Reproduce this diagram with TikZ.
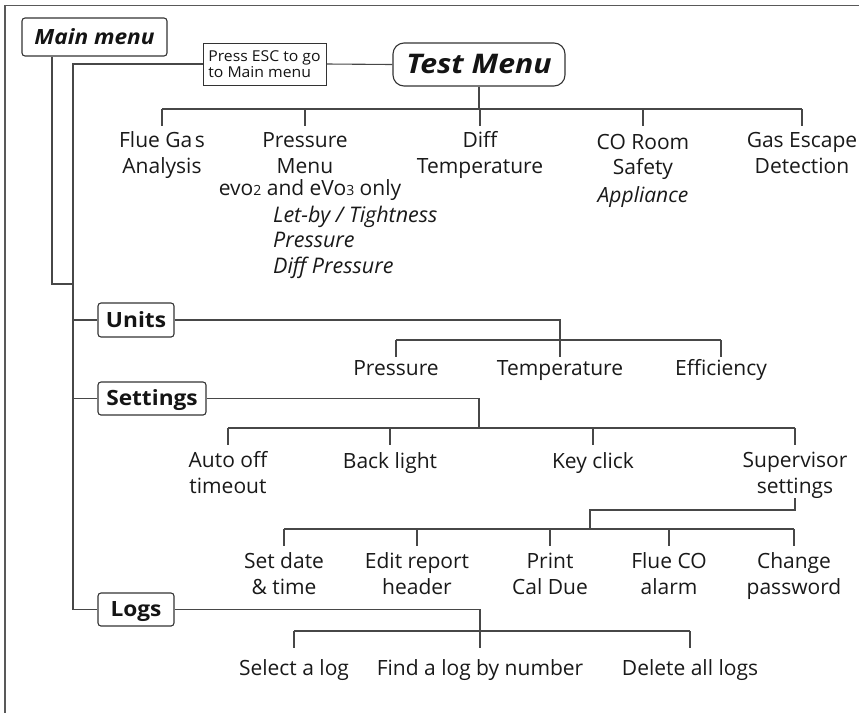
\documentclass[tikz,border=0pt]{standalone}
\usepackage{fontspec}
\setmainfont{Open Sans}
\usetikzlibrary{calc}
\begin{document}
\begin{tikzpicture}[x=1pt,y=-1pt,
  ln/.style={draw=black!72, line width=1.1pt},
  frameline/.style={draw=black!65, line width=1.4pt},
  lbl/.style={anchor=base, inner sep=0pt, align=center, text=black!90,
    font=\fontsize{21}{25.5}\selectfont},
  ilbl/.style={lbl, anchor=base west, align=left,
    font=\fontsize{21.5}{25.2}\selectfont\itshape},
  menubox/.style={draw=black!80, line width=1.1pt, rounded corners=3pt,
    inner sep=0pt, text height=17pt, text depth=3pt, text=black!92,
    font=\fontsize{21}{21}\selectfont\bfseries\addfontfeatures{FakeStretch=1.08}},
  testbox/.style={draw=black!80, line width=1.1pt, rounded corners=11pt,
    inner sep=0pt, text height=21pt, text depth=3pt, text=black!92,
    font=\fontsize{27}{27}\selectfont\bfseries\itshape\addfontfeatures{FakeStretch=1.12}},
  escbox/.style={draw=black!80, line width=1pt, inner sep=0pt,
    align=left, text=black!92, font=\fontsize{15}{15.5}\selectfont\addfontfeatures{FakeStretch=1.05}}
]
\useasboundingbox (0,0) rectangle (859,713);

% frame
\coordinate (frTR) at (859,5.5);
\coordinate (frTL) at (5,5.5);
\coordinate (frBL) at (5,713);
\draw[frameline] (frTR) -- (frTL) -- (frBL);

% boxes
\node[menubox, minimum width=145pt, minimum height=38pt] (mm) at (94.5,37) {\itshape Main menu};
\node[escbox, minimum width=123pt, minimum height=42pt] (esc) at (264.5,64) {Press ESC to go\\to Main menu};
\node[testbox, minimum width=172pt, minimum height=43pt] (test) at (479,64.5) {Test Menu};
\node[menubox, minimum width=76pt, minimum height=34pt] (units) at (136,320) {Units};
\node[menubox, minimum width=108pt, minimum height=33pt] (settings) at (152,398.5) {Settings};
\node[menubox, minimum width=76pt, minimum height=33pt] (logs) at (136,609.5) {Logs};

% test menu children (anchor = baseline of last line)
\node[lbl] (flue) at (162,173) {Flue Ga\kern2.5pt s\\Analysis};
\node[lbl] (pmenu) at (305,173) {Pressure\\Menu};
\node[lbl] (evo) at (310,195) {evo{\fontsize{14}{14}\selectfont 2} and eVo{\fontsize{14}{14}\selectfont 3} only};
\node[ilbl] (pitems) at (273,273) {Let-by / Tightness\\Pressure\\Diff Pressure};
\node[lbl] (diff) at (480,173) {Diff\\Temperature};
\node[lbl] (co) at (643,202) {CO Room\\Safety\\[2pt]\textit{Appliance}};
\node[lbl] (gas) at (802,173) {Gas Escape\\Detection};

% units children
\node[lbl] (upress) at (396,375) {Pressure};
\node[lbl] (utemp) at (560,375) {Temperature};
\node[lbl] (ueff) at (721,375) {Efficiency};

% settings children
\node[lbl] (auto) at (228,493) {Auto off\\timeout};
\node[lbl] (back) at (390,468) {Back light};
\node[lbl] (key) at (593,468) {Key click};
\node[lbl] (super) at (795,493) {Supervisor\\settings};

% supervisor children
\node[lbl] (setdate) at (284,594) {Set date\\\& time};
\node[lbl] (edit) at (417,594) {Edit report\\header};
\node[lbl] (print) at (550,594) {Print\\Cal Due};
\node[lbl] (flueco) at (669,594) {Flue CO\\alarm};
\node[lbl] (change) at (794,594) {Change\\password};

% logs children
\node[lbl] (sel) at (294,675) {Select a log};
\node[lbl] (find) at (480,675) {Find a log by number};
\node[lbl] (del) at (690,675) {Delete all logs};

% main spine
\coordinate (spine) at (73,0);
\coordinate (mmx) at (52,0);
\coordinate (j1) at (73,284);
\draw[ln] (mm.south -| mmx) |- (j1);
\draw[ln] (esc.west) -| (spine |- logs.west) -- (logs.west);
\draw[ln] (units.west) -- (units.west -| spine);
\draw[ln] (settings.west) -- (settings.west -| spine);
\draw[ln] (esc.east) -- (test.west);

% test menu tree
\coordinate (tbar) at (0,109);
\draw[ln] (test.south) -- (test.south |- tbar);
\draw[ln] (flue.north |- tbar) -- (gas.north |- tbar);
\foreach \n in {flue,pmenu,diff,co,gas} \draw[ln] (\n.north |- tbar) -- ++(0,17);

% units tree
\coordinate (ubar) at (0,340);
\draw[ln] (units.east) -| (utemp.north |- ubar) -- ++(0,17);
\draw[ln] (upress.north |- ubar) -- (ueff.north |- ubar);
\foreach \n in {upress,ueff} \draw[ln] (\n.north |- ubar) -- ++(0,17);

% settings tree
\coordinate (sbar) at (0,428);
\coordinate (sx) at (479,0);
\draw[ln] (settings.east) -| (sx |- sbar);
\draw[ln] (auto.north |- sbar) -- (super.north |- sbar);
\foreach \n in {auto,back,key,super} \draw[ln] (\n.north |- sbar) -- ++(0,17);

% supervisor tree
\coordinate (vbar) at (0,529);
\coordinate (vturn) at (590,510);
\draw[ln] (super.south) |- (vturn) -- (vturn |- vbar);
\draw[ln] (setdate.north |- vbar) -- (change.north |- vbar);
\foreach \n in {setdate,edit,print,flueco,change} \draw[ln] (\n.north |- vbar) -- ++(0,17);

% logs tree
\coordinate (lbar) at (0,631);
\draw[ln] (logs.east) -| (find.north |- lbar) -- ++(0,17);
\draw[ln] (sel.north |- lbar) -- (del.north |- lbar);
\foreach \n in {sel,del} \draw[ln] (\n.north |- lbar) -- ++(0,17);
\end{tikzpicture}
\end{document}
